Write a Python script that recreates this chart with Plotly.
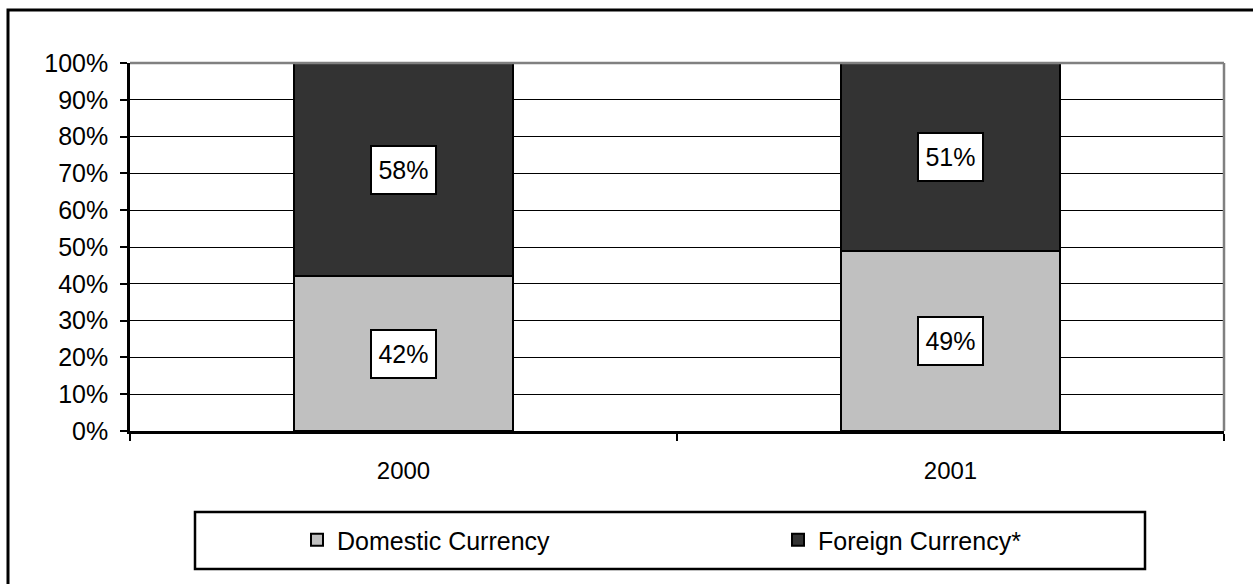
import plotly.graph_objects as go

years = ["2000", "2001"]
domestic = [42, 49]
foreign = [58, 51]
y_ticks = [0, 10, 20, 30, 40, 50, 60, 70, 80, 90, 100]
y_tick_labels = [f"{v}%" for v in y_ticks]

FONT = "Liberation Sans, Arial, sans-serif"
W, H = 1253, 584
ML, MR, MT, MB = 130, 29, 63, 153
PW, PH = W - ML - MR, H - MT - MB

def px_x(px):
    return (px - ML) / PW

def px_y(py):
    return (H - MB - py) / PH

fig = go.Figure()
fig.add_trace(go.Bar(x=years, y=domestic, name="Domestic Currency", legend="legend",
                     marker=dict(color="#C0C0C0", line=dict(color="black", width=2))))
fig.add_trace(go.Bar(x=years, y=foreign, name="Foreign Currency*", legend="legend2",
                     marker=dict(color="#333333", line=dict(color="black", width=2))))

annotations = []
for i, yr in enumerate(years):
    for base, val in ((0, domestic[i]), (domestic[i], foreign[i])):
        annotations.append(dict(
            x=i, y=base + val / 2, xref="x", yref="y", text=f"{val}%",
            showarrow=False, font=dict(family=FONT, size=25, color="black"),
            bgcolor="white", bordercolor="black", borderwidth=2, borderpad=4,
            width=55, height=38))

shapes = [
    dict(type="rect", xref="paper", yref="paper", x0=px_x(8), x1=px_x(1300),
         y0=px_y(700), y1=px_y(10), line=dict(color="black", width=3), layer="below"),
    dict(type="line", xref="paper", yref="paper", x0=0, x1=1, y0=1, y1=1,
         line=dict(color="#808080", width=2.5), layer="above"),
    dict(type="line", xref="paper", yref="paper", x0=1, x1=1, y0=0, y1=1,
         line=dict(color="#808080", width=2.5), layer="above"),
    dict(type="rect", xref="paper", yref="paper", x0=px_x(195), x1=px_x(1145),
         y0=px_y(569), y1=px_y(512), line=dict(color="black", width=2.5)),
]

legend_common = dict(orientation="h", xanchor="left", yanchor="middle", y=px_y(540),
                     font=dict(family=FONT, size=25, color="black"),
                     bgcolor="rgba(0,0,0,0)", borderwidth=0)

fig.update_layout(
    width=W, height=H,
    margin=dict(l=ML, r=MR, t=MT, b=MB, pad=0),
    paper_bgcolor="white", plot_bgcolor="white",
    barmode="stack", bargap=0.6,
    font=dict(family=FONT, size=24, color="black"),
    showlegend=True,
    legend=dict(x=px_x(297), **legend_common),
    legend2=dict(x=px_x(778), **legend_common),
    annotations=annotations,
    shapes=shapes,
    xaxis=dict(type="category", range=[-0.5, 1.5], showgrid=False, showline=True,
               linecolor="black", linewidth=2.5,
               ticks="outside", ticklen=7, tickwidth=2, tickcolor="black", tickson="boundaries",
               tickfont=dict(family=FONT, size=24), tickangle=0, ticklabelstandoff=16,
               zeroline=False),
    yaxis=dict(range=[0, 100], tickvals=y_ticks, ticktext=y_tick_labels,
               showgrid=True, gridcolor="black", gridwidth=1,
               showline=True, linecolor="black", linewidth=2.5,
               ticks="outside", ticklen=7, tickwidth=2, tickcolor="black",
               tickfont=dict(family=FONT, size=25), ticklabelstandoff=7, zeroline=False),
)

fig.write_html("out.html")
